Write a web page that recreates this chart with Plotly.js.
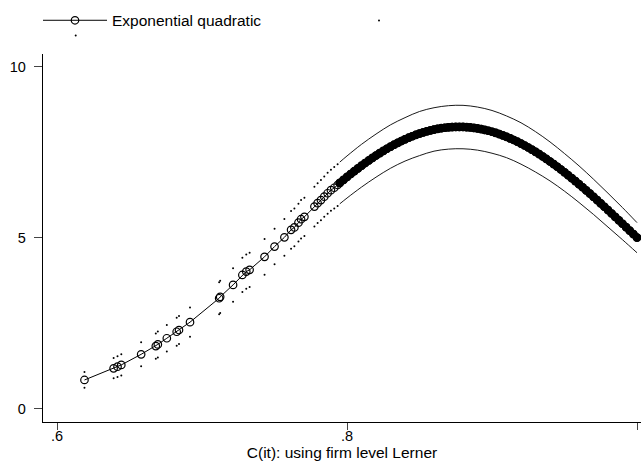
<!DOCTYPE html>
<html>
<head>
<meta charset="utf-8">
<script src="https://cdn.plot.ly/plotly-3.0.1.min.js"></script>
<style>html,body{margin:0;padding:0;background:#fff;}#chart{width:641px;height:466px;}</style>
</head>
<body>
<div id="chart"></div>
<script>
// Observed points at low Lerner values (sparse part)
const lowX = [0.6189, 0.6390, 0.6417, 0.6443, 0.6580, 0.6681, 0.6695, 0.6757, 0.6825, 0.6841, 0.6917, 0.7118, 0.7125, 0.7214, 0.7278, 0.7305, 0.7328, 0.7431, 0.7500, 0.7568, 0.7614, 0.7637, 0.7665, 0.7683, 0.7706, 0.7775, 0.7797, 0.7820, 0.7843, 0.7866, 0.7889, 0.7912, 0.7935];
const lowY = [0.84, 1.18, 1.23, 1.28, 1.59, 1.83, 1.88, 2.06, 2.25, 2.30, 2.53, 3.23, 3.27, 3.62, 3.91, 4.01, 4.06, 4.44, 4.74, 5.01, 5.23, 5.30, 5.44, 5.54, 5.61, 5.91, 6.01, 6.10, 6.20, 6.30, 6.39, 6.46, 6.54];
const lowUpper = [1.07, 1.48, 1.53, 1.59, 1.94, 2.20, 2.26, 2.45, 2.66, 2.71, 2.96, 3.70, 3.74, 4.11, 4.41, 4.51, 4.56, 4.96, 5.26, 5.55, 5.78, 5.85, 5.99, 6.10, 6.17, 6.49, 6.59, 6.69, 6.79, 6.90, 6.99, 7.07, 7.15];
const lowLower = [0.61, 0.89, 0.93, 0.97, 1.24, 1.46, 1.50, 1.67, 1.84, 1.89, 2.10, 2.76, 2.80, 3.13, 3.41, 3.51, 3.56, 3.92, 4.22, 4.47, 4.68, 4.75, 4.89, 4.98, 5.05, 5.33, 5.43, 5.51, 5.61, 5.70, 5.79, 5.85, 5.93];

// Dense part (many observations between .8 and 1)
const denseX = [0.795, 0.7975, 0.8, 0.8025, 0.805, 0.8075, 0.81, 0.8125, 0.815, 0.8175, 0.82, 0.8225, 0.825, 0.8275, 0.83, 0.8325, 0.835, 0.8375, 0.84, 0.8425, 0.845, 0.8475, 0.85, 0.8525, 0.855, 0.8575, 0.86, 0.8625, 0.865, 0.8675, 0.87, 0.8725, 0.875, 0.8775, 0.88, 0.8825, 0.885, 0.8875, 0.89, 0.8925, 0.895, 0.8975, 0.9, 0.9025, 0.905, 0.9075, 0.91, 0.9125, 0.915, 0.9175, 0.92, 0.9225, 0.925, 0.9275, 0.93, 0.9325, 0.935, 0.9375, 0.94, 0.9425, 0.945, 0.9475, 0.95, 0.9525, 0.955, 0.9575, 0.96, 0.9625, 0.965, 0.9675, 0.97, 0.9725, 0.975, 0.9775, 0.98, 0.9825, 0.985, 0.9875, 0.99, 0.9925, 0.995, 0.9975, 1.0];
const denseY = [6.601, 6.689, 6.776, 6.861, 6.944, 7.026, 7.105, 7.183, 7.258, 7.332, 7.402, 7.471, 7.537, 7.600, 7.661, 7.719, 7.774, 7.826, 7.876, 7.923, 7.966, 8.007, 8.044, 8.078, 8.110, 8.137, 8.162, 8.183, 8.201, 8.215, 8.227, 8.234, 8.239, 8.240, 8.238, 8.232, 8.223, 8.210, 8.194, 8.175, 8.152, 8.127, 8.097, 8.065, 8.030, 7.991, 7.949, 7.904, 7.857, 7.806, 7.752, 7.696, 7.637, 7.575, 7.511, 7.444, 7.374, 7.302, 7.228, 7.152, 7.074, 6.993, 6.911, 6.827, 6.741, 6.654, 6.565, 6.474, 6.382, 6.289, 6.195, 6.099, 6.003, 5.905, 5.807, 5.708, 5.608, 5.508, 5.408, 5.307, 5.206, 5.105, 5.003];

// Confidence band in the dense part
const bandX = [0.795, 0.80, 0.81, 0.82, 0.83, 0.84, 0.85, 0.86, 0.87, 0.88, 0.89, 0.90, 0.91, 0.92, 0.93, 0.94, 0.95, 0.96, 0.97, 0.98, 0.99, 1.00];
const bandUpper = [7.21, 7.39, 7.73, 8.03, 8.30, 8.51, 8.69, 8.80, 8.86, 8.87, 8.82, 8.72, 8.56, 8.36, 8.10, 7.80, 7.46, 7.10, 6.71, 6.30, 5.88, 5.44];
const bandLower = [5.99, 6.16, 6.48, 6.77, 7.03, 7.24, 7.40, 7.53, 7.59, 7.60, 7.56, 7.47, 7.34, 7.15, 6.92, 6.66, 6.36, 6.03, 5.68, 5.31, 4.94, 4.56];

const xTickVals = [0.6, 0.8, 1.0];
const xTickText = ['.6', '.8', '1'];
const yTickVals = [0, 5, 10];
const yTickText = ['0', '5', '10'];
const seriesName = 'Exponential quadratic';
const xTitle = 'C(it): using firm level Lerner';

const FONT = 'Liberation Sans, Arial, Helvetica, sans-serif';

const traces = [
  {x: bandX, y: bandUpper, mode: 'lines', line: {color: '#000', width: 0.9, shape: 'spline'}, showlegend: false, hoverinfo: 'skip'},
  {x: bandX, y: bandLower, mode: 'lines', line: {color: '#000', width: 0.9, shape: 'spline'}, showlegend: false, hoverinfo: 'skip'},
  {x: lowX, y: lowUpper, mode: 'markers', name: ' ', marker: {color: '#000', size: 2}, legend: 'legend2'},
  {x: lowX, y: lowLower, mode: 'markers', name: ' ', marker: {color: '#000', size: 2}, legend: 'legend3'},
  {x: lowX.concat(denseX), y: lowY.concat(denseY), mode: 'lines+markers', name: seriesName,
   line: {color: '#000', width: 1},
   marker: {symbol: 'circle-open', size: 7.5, color: '#000', line: {width: 1.2, color: '#000'}},
   legend: 'legend'},
  // heavily overlapping circles of the dense part merge into a solid band
  {x: denseX, y: denseY, mode: 'markers', showlegend: false, hoverinfo: 'skip',
   marker: {symbol: 'circle', size: 8.5, color: '#000', line: {width: 0}}}
];

const legendBase = {xref: 'container', yref: 'container', xanchor: 'left', yanchor: 'middle',
  bgcolor: 'rgba(0,0,0,0)', borderwidth: 0, itemwidth: 64, font: {family: FONT, size: 15.5, color: '#000'},
  tracegroupgap: 0};

const layout = {
  width: 641, height: 466,
  margin: {l: 43, r: 0, t: 54, b: 44, pad: 0, autoexpand: false},
  paper_bgcolor: '#fff', plot_bgcolor: '#fff',
  font: {family: FONT, size: 15, color: '#000'},
  showlegend: true,
  legend: Object.assign({}, legendBase, {x: 38 / 641, y: 1 - 20.7 / 466}),
  legend2: Object.assign({}, legendBase, {x: 342 / 641, y: 1 - 21 / 466}),
  legend3: Object.assign({}, legendBase, {x: 38.7 / 641, y: 1 - 36 / 466}),
  xaxis: {
    range: [0.5903, 1.00276], showgrid: false, zeroline: false,
    showline: true, linecolor: '#000', linewidth: 1.2,
    ticks: 'outside', ticklen: 7, tickwidth: 1, tickcolor: '#444',
    tickvals: xTickVals, ticktext: xTickText, ticklabelstandoff: -7,
    tickfont: {family: FONT, size: 14.5, color: '#000'},
    automargin: false,
    title: {text: xTitle, font: {family: FONT, size: 15.5, color: '#000'}, standoff: 0}
  },
  yaxis: {
    range: [-0.389, 10.371], showgrid: false, zeroline: false,
    showline: true, linecolor: '#000', linewidth: 1.2,
    ticks: 'outside', ticklen: 8, tickwidth: 1, tickcolor: '#444',
    tickvals: yTickVals, ticktext: yTickText, ticklabelstandoff: 5,
    automargin: false,
    tickfont: {family: FONT, size: 14.5, color: '#000'}
  }
};

Plotly.newPlot('chart', traces, layout, {displayModeBar: false, staticPlot: true});
</script>
</body>
</html>
